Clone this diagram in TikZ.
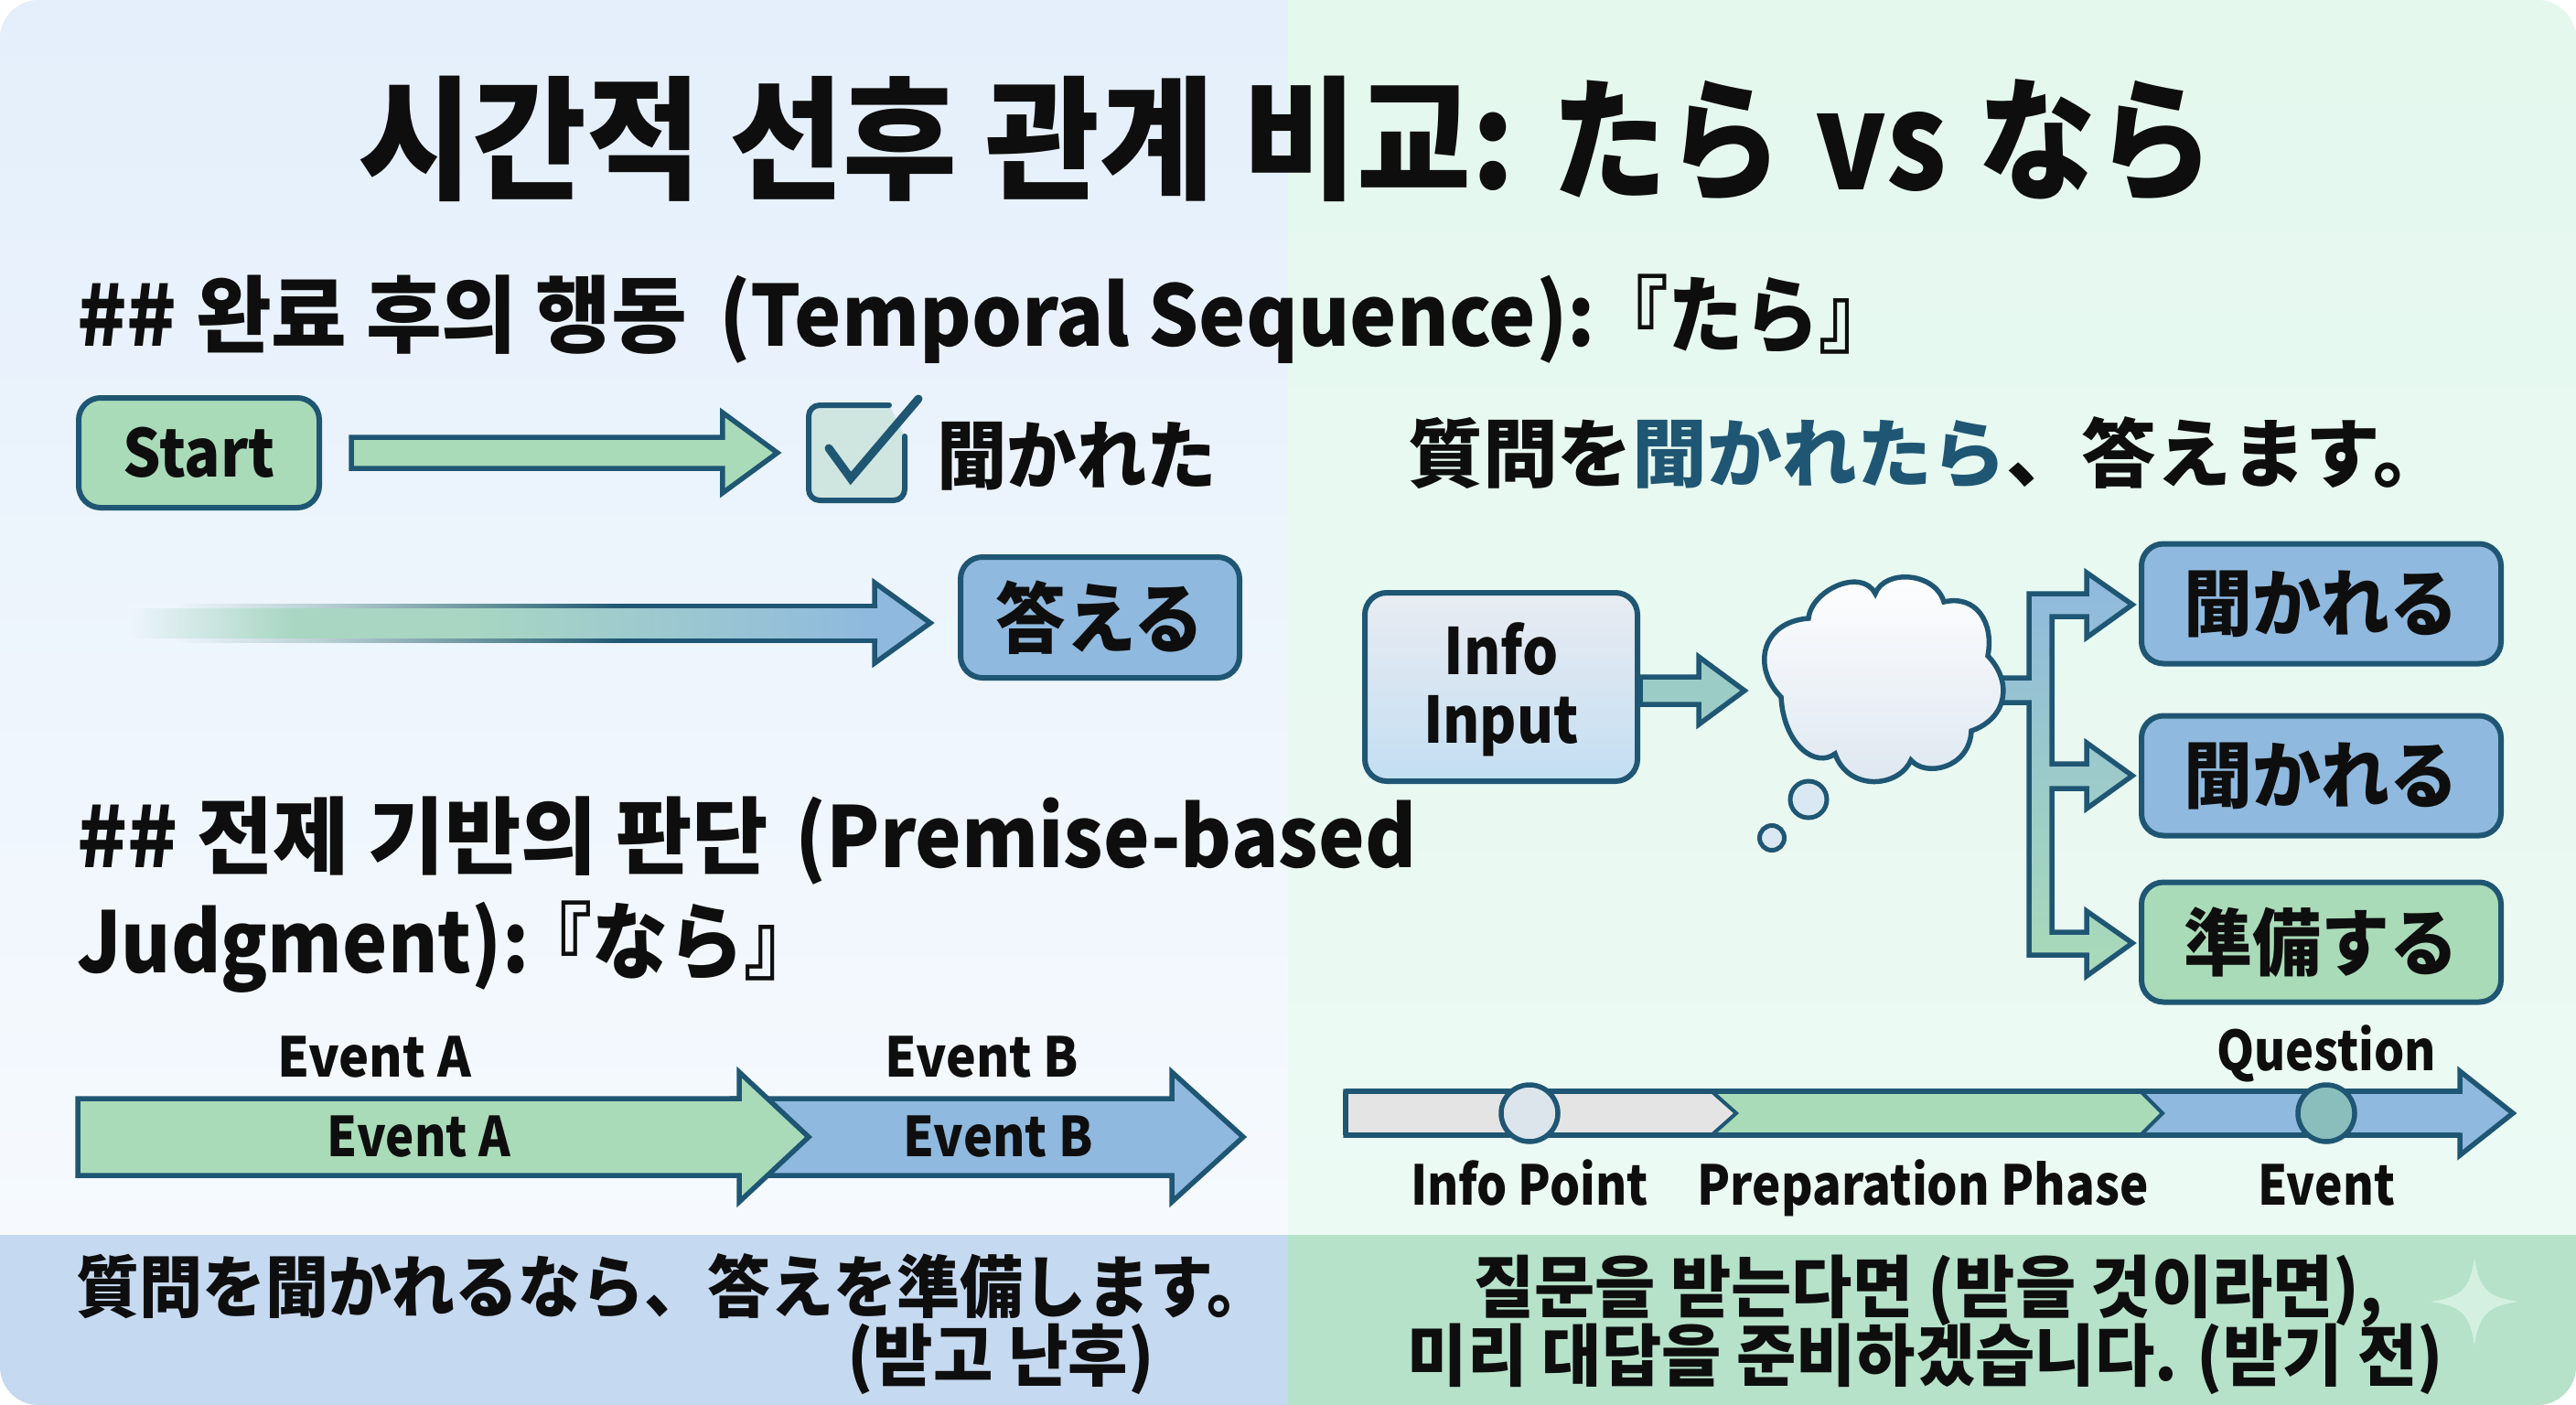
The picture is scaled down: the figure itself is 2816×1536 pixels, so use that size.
\documentclass[tikz,border=0pt]{standalone}
\usepackage{fontspec}
\usepackage{graphicx}
\usetikzlibrary{calc}
\newfontfamily\kr{Noto Sans CJK KR}
\newfontfamily\jp{Noto Sans CJK JP}
\newcommand\fs[1]{\fontsize{#1pt}{#1pt}\selectfont\bfseries}
\newcommand\fitw[2]{\resizebox{#1pt}{\height}{#2}}
\definecolor{ink}{HTML}{0E0E0E}
\definecolor{edge}{HTML}{1F5673}
\definecolor{grn}{HTML}{A9DBB8}
\definecolor{blu}{HTML}{8FB9DE}
\definecolor{bgL}{HTML}{EEF5FD}
\definecolor{fadeG}{HTML}{A8D6C2}
\definecolor{fadeM}{HTML}{5E8C94}
\definecolor{fadeS}{HTML}{B8CFD3}
\definecolor{bgLt}{HTML}{E4EFFB}
\definecolor{bgLb}{HTML}{F6FAFE}
\definecolor{bgRt}{HTML}{E4F8EE}
\definecolor{bgRb}{HTML}{ECFAF4}
\definecolor{footL}{HTML}{C5D9F0}
\definecolor{footR}{HTML}{B5E2C9}
\definecolor{spark}{HTML}{D3F0E0}
\definecolor{chkfill}{HTML}{CFE5DF}
\definecolor{infoT}{HTML}{E9ECF2}
\definecolor{infoB}{HTML}{C3DEF2}
\definecolor{arrmid}{HTML}{9CCCC6}
\definecolor{cloudB}{HTML}{DDE6F0}
\definecolor{bubble}{HTML}{D9E8F2}
\definecolor{greyseg}{HTML}{E4E4E4}
\definecolor{pointA}{HTML}{DCE5EC}
\definecolor{pointB}{HTML}{89BEBC}
\pgfdeclarehorizontalshading{fadefill}{100bp}{color(0bp)=(bgL); color(25bp)=(bgL); color(36bp)=(fadeG); color(48bp)=(fadeG); color(75bp)=(blu); color(100bp)=(blu)}
\pgfdeclarehorizontalshading{fadeedge}{100bp}{color(0bp)=(bgL); color(28bp)=(bgL); color(38bp)=(fadeS); color(50bp)=(fadeM); color(58bp)=(edge); color(75bp)=(edge); color(100bp)=(edge)}
\newcommand\blockarrow[6][]{%
  \path[blockstyle,#1] ($(#2)+(0,-#4)$) -- ($(#3)+(-#6,-#4)$) -- ($(#3)+(-#6,-#5)$) -- (#3) -- ($(#3)+(-#6,#5)$) -- ($(#3)+(-#6,#4)$) -- ($(#2)+(0,#4)$) -- cycle;}
\tikzset{
  blockstyle/.style={draw=edge,line width=5.5pt,line join=miter,fill=grn},
  tbox/.style={draw=edge,line width=6pt,rounded corners=24pt,inner sep=0pt,text=ink,font=\kr\fs{80}},
  greenbox/.style={tbox,fill=grn},
  bluebox/.style={tbox,fill=blu},
  lab/.style={inner sep=0pt,anchor=base,text=ink,font=\kr\fs{60}},
  labw/.style={lab,anchor=base west},
}
\begin{document}
\begin{tikzpicture}[x=1pt,y=-1pt]
\useasboundingbox (0,0) rectangle (2816,1536);
\fill[white] (0,0) rectangle (2816,1536);
\begin{scope}
\clip[rounded corners=42pt] (0,0) rectangle (2816,1536);
\shade[top color=bgLt,bottom color=bgLb] (0,0) rectangle (1408,1350);
\shade[top color=bgRt,bottom color=bgRb] (1408,0) rectangle (2816,1350);
\fill[color=footL] (0,1350) rectangle (1408,1536);
\fill[color=footR] (1408,1350) rectangle (2816,1536);
\end{scope}
% sparkle
\fill[spark] (2705,1375) .. controls (2710,1410) and (2720,1418) .. (2753,1423) .. controls (2720,1428) and (2710,1436) .. (2705,1471) .. controls (2700,1436) and (2690,1428) .. (2657,1423) .. controls (2690,1418) and (2700,1410) .. cycle;
% title and headings
\node[labw,font=\kr\fs{146}] (title) at (391,207) {\fitw{1265}{시간적 선후 관계 비교:}\hspace{40pt}\fitw{252}{\jp たら}\hspace{36pt}\fitw{144}{vs}\hspace{34pt}\fitw{258}{\jp なら}};
\node[labw,font=\kr\fs{92}] (h1) at (84,378) {\fitw{667}{\#\# 완료 후의 행동}\hspace{35pt}\fitw{958}{(Temporal Sequence):}\hspace{-3pt}\fitw{330}{\jp 『たら』}};
\node[labw,font=\kr\fs{92}] (h2a) at (84,948) {\fitw{756}{\#\# 전제 기반의 판단}\hspace{29pt}\fitw{679}{(Premise-based}};
\node[labw,font=\kr\fs{92}] (h2b) at (84,1063) {\fitw{494}{Judgment):}\hspace{-14pt}\fitw{332}{\jp 『なら』}};
% upper left
\node[greenbox,minimum width=263pt,minimum height=120pt] (start) at (217.5,495) {\fs{72}\fitw{166}{Start}};
\node[inner sep=0pt,minimum width=105pt,minimum height=104pt] (chk) at (936.5,495) {};
\coordinate (a1s) at ($(start.east)+(32,0)$);
\coordinate (a1e) at ($(chk.west)+(-34,0)$);
\blockarrow{a1s}{a1e}{17}{44}{60}
\path[draw=edge,line width=6pt,fill=chkfill,line join=round,line cap=round] (989,477) -- (989,535) arc (0:90:12) -- (896,547) arc (90:180:12) -- (884,455) arc (180:270:12) -- (972,443);
\draw[edge,line width=9pt,line join=miter,line cap=round] (906,490) -- (930,523) -- (1004,436);
\node[labw,font=\jp\fs{82}] (heard) at (1024,528) {\fitw{306}{聞かれた}};
% fading arrow
\node[bluebox,minimum width=305pt,minimum height=132pt,font=\jp\fs{84}] (ans) at (1202.5,675) {\jp\fitw{228}{答える}};
\coordinate (a2s) at (140,681);
\coordinate (a2e) at ($(ans.west)+(-30,6)$);
\path[draw=edge,line width=5.5pt,fill=blu,line join=miter] ($(a2e)+(-61,-44)$) -- (a2e) -- ($(a2e)+(-61,44)$) -- cycle;
\shade[shading=fadeedge] ($(a2s)+(0,-21)$) rectangle ($(a2e)+(-58,21)$);
\shade[shading=fadefill] ($(a2s)+(0,-16)$) rectangle ($(a2e)+(-56,16)$);
\path[fill=blu] ($(a2e)+(-64,-16)$) rectangle ($(a2e)+(-56,16)$);
% question sentence
\node[labw,font=\jp\fs{82}] (q1) at (1539,526) {\fitw{1137}{質問を{\color{edge}聞かれたら}、答えます。}};
% info flow
\node[tbox,top color=infoT,bottom color=infoB,minimum width=298pt,minimum height=206pt] (info) at (1641,751) {};
\node[lab,font=\kr\fs{70}] (info1) at (info.center |- 0,737) {\fitw{125}{Info}};
\node[lab,font=\kr\fs{70}] (info2) at (info.center |- 0,812) {\fitw{170}{Input}};
\coordinate (a3s) at (info.east |- 0,755);
\coordinate (a3e) at (1907,755);
\blockarrow[fill=arrmid]{a3s}{a3e}{15}{37}{50}
\node[inner sep=0pt,minimum width=260pt,minimum height=220pt] (cloud) at (2058,743) {};
\coordinate (tr0) at (cloud.east |- 0,741);
\coordinate (tr1) at (cloud.east |- 0,768);
\path[draw=edge,line width=5.5pt,line join=miter,top color=blu,bottom color=grn] (tr0) -- (2218,741) -- (2218,649) -- (2281,649) -- (2281,626) -- (2331,661) -- (2281,697) -- (2281,674) -- (2243,674) -- (2243,835) -- (2281,835) -- (2281,812) -- (2331,848) -- (2281,884) -- (2281,862) -- (2243,862) -- (2243,1019) -- (2281,1019) -- (2281,996) -- (2331,1031) -- (2281,1067) -- (2281,1044) -- (2218,1044) -- (2218,768) -- (tr1);
\path[draw=edge,line width=5.5pt,top color=white,bottom color=cloudB,line join=miter]
 (1977,676) .. controls (1980,645) and (2035,620) .. (2050,649)
 .. controls (2060,622) and (2115,625) .. (2125,658)
 .. controls (2160,650) and (2180,680) .. (2173,717)
 .. controls (2200,745) and (2195,785) .. (2155,799)
 .. controls (2153,840) and (2105,850) .. (2089,831)
 .. controls (2075,862) and (2020,865) .. (2006,824)
 .. controls (1985,840) and (1950,815) .. (1947,762)
 .. controls (1915,730) and (1925,680) .. cycle;
\node[draw=edge,line width=5pt,fill=bubble,circle,inner sep=0pt,minimum size=40pt] (bub1) at (1977,874) {};
\node[draw=edge,line width=5pt,fill=bubble,circle,inner sep=0pt,minimum size=27pt] (bub2) at (1937,916) {};
\node[bluebox,minimum width=393pt,minimum height=131pt] (b1) at (2537.5,660) {\jp\fitw{300}{聞かれる}};
\node[bluebox,minimum width=393pt,minimum height=131pt] (b2) at (2537.5,848) {\jp\fitw{300}{聞かれる}};
\node[greenbox,minimum width=393pt,minimum height=131pt] (b3) at (2537.5,1030) {\jp\fitw{300}{準備する}};
% event arrows
\coordinate (ev1s) at (85,1243);
\coordinate (ev1e) at (884,1243);
\coordinate (ev2s) at (800,1243);
\coordinate (ev2e) at (1359,1243);
\blockarrow[fill=blu]{ev2s}{ev2e}{42}{71}{78}
\blockarrow{ev1s}{ev1e}{42}{71}{76}
\node[lab] (ea1) at (409,1177) {\fitw{212}{Event A}};
\node[lab] (eb1) at (1073,1177) {\fitw{212}{Event B}};
\node[lab] (ea2) at (458,1264) {\fitw{200}{Event A}};
\node[lab] (eb2) at (1091,1264) {\fitw{207}{Event B}};
% timeline
\coordinate (tl0) at (1471,1217);
\coordinate (tl1) at (2747,1217);
\blockarrow[fill=blu]{tl0}{tl1}{24}{46}{58}
\path[draw=edge,line width=4pt,fill=grn] (1471,1193) -- (2340,1193) -- (2364,1217) -- (2340,1241) -- (1471,1241) -- cycle;
\path[draw=edge,line width=4pt,fill=greyseg] (1471,1193) -- (1871,1193) -- (1898,1217) -- (1871,1241) -- (1471,1241) -- cycle;
\path[draw=edge,line width=5.5pt] (1471,1193) -- (2689,1193) (1471,1241) -- (2689,1241) (1471,1193) -- (1471,1241);
\node[draw=edge,line width=5.5pt,fill=pointA,circle,inner sep=0pt,minimum size=62pt] (p1) at (1672,1217) {};
\node[draw=edge,line width=5.5pt,fill=pointB,circle,inner sep=0pt,minimum size=62pt] (p2) at (2543,1217) {};
\node[lab,font=\kr\fs{60}] (lq) at (p2.center |- 0,1170) {\fitw{240}{Question}};
\node[lab,font=\kr\fs{60}] (li) at (p1.center |- 0,1317) {\fitw{260}{Info Point}};
\node[lab,font=\kr\fs{60}] (lp) at (2102,1317) {\fitw{493}{Preparation Phase}};
\node[lab,font=\kr\fs{60}] (le) at (p2.center |- 0,1317) {\fitw{150}{Event}};
% footers
\node[labw,font=\jp\fs{74}] (f1) at (83,1434) {\fitw{1305}{質問を聞かれるなら、答えを準備します。}};
\node[lab,font=\kr\fs{74}] (f2) at (1094,1509) {\fitw{335}{(받고 난후)}};
\node[lab,font=\kr\fs{74}] (f3) at (2108,1434) {\fitw{994}{질문을 받는다면 (받을 것이라면),}};
\node[lab,font=\kr\fs{74}] (f4) at (2105,1509) {\fitw{1132}{미리 대답을 준비하겠습니다. (받기 전)}};
\end{tikzpicture}
\end{document}
